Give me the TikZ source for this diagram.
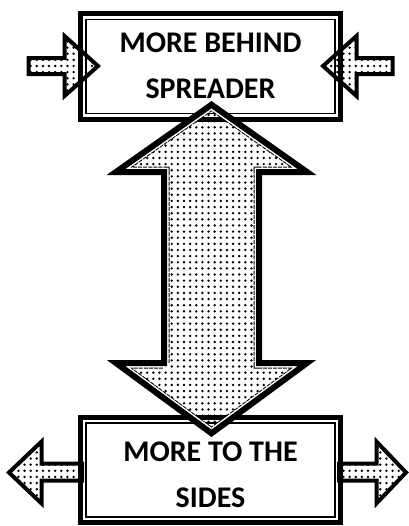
\documentclass[tikz,border=0pt]{standalone}
\usepackage{fontspec}
\setmainfont{Carlito}
\usetikzlibrary{patterns.meta}

\begin{document}
\begin{tikzpicture}[
    x=0.75pt, y=-0.75pt,
    box/.style={rectangle, draw, line width=3.75pt, minimum width=195pt, minimum height=79pt,
        align=center, text depth=2pt, font=\bfseries\fontsize{22.5}{34.5}\selectfont,
        path picture={\draw[line width=1.1pt]
            ([shift={(4.1pt,-4.1pt)}]path picture bounding box.north west) rectangle
            ([shift={(-4.1pt,4.1pt)}]path picture bounding box.south east);}},
    dotted fill/.style={pattern={Dots[distance=4.6pt, radius=1pt]}},
    side arrow/.style={line width=3pt, miter limit=4},
    big arrow/.style={line width=4.5pt}
]
\useasboundingbox (0,0) rectangle (409,526);

% arrows that go under the lower box
\def\leftout{(82,463.5) -- (41.5,463.5) -- (41.5,441.6) -- (9,472.5)
    -- (41.5,503.4) -- (41.5,480.5) -- (82,480.5) -- cycle}
\def\rightout{(339,463.5) -- (376.5,463.5) -- (376.5,441.6) -- (406,472.5)
    -- (376.5,503.4) -- (376.5,480.5) -- (339,480.5) -- cycle}
\fill [dotted fill] \leftout \rightout;
\draw [side arrow] \leftout \rightout;

\node [box] (spread) at (210.5,66.5) {MORE BEHIND\\SPREADER};
\node [box, text height=58pt] (sides) at (210.5,470) {MORE TO THE\\SIDES};

% arrows pushing in on the upper box
\def\leftin{(28.5,58) -- (64.5,58) -- (64.5,36) -- (98,66)
    -- (64.5,96) -- (64.5,74) -- (28.5,74) -- cycle}
\def\rightin{(392.5,58) -- (356.5,58) -- (356.5,36) -- (323,66)
    -- (356.5,96) -- (356.5,74) -- (392.5,74) -- cycle}
\fill [dotted fill] \leftin \rightin;
\draw [side arrow] \leftin \rightin;

% the long double arrow
\def\updown{(211.5,104.7) -- (307,172) -- (259,172) -- (259,363) -- (307,363)
    -- (211.5,433.3) -- (116,363) -- (164,363) -- (164,172) -- (116,172) -- cycle}
\fill [dotted fill] \updown;
\begin{scope}
    \clip \updown;
    \draw [line width=8.25pt, dash pattern=on 3pt off 0.8pt] \updown;
    \draw [white, line width=6.75pt] \updown;
\end{scope}
\draw [big arrow] \updown;
\end{tikzpicture}
\end{document}
